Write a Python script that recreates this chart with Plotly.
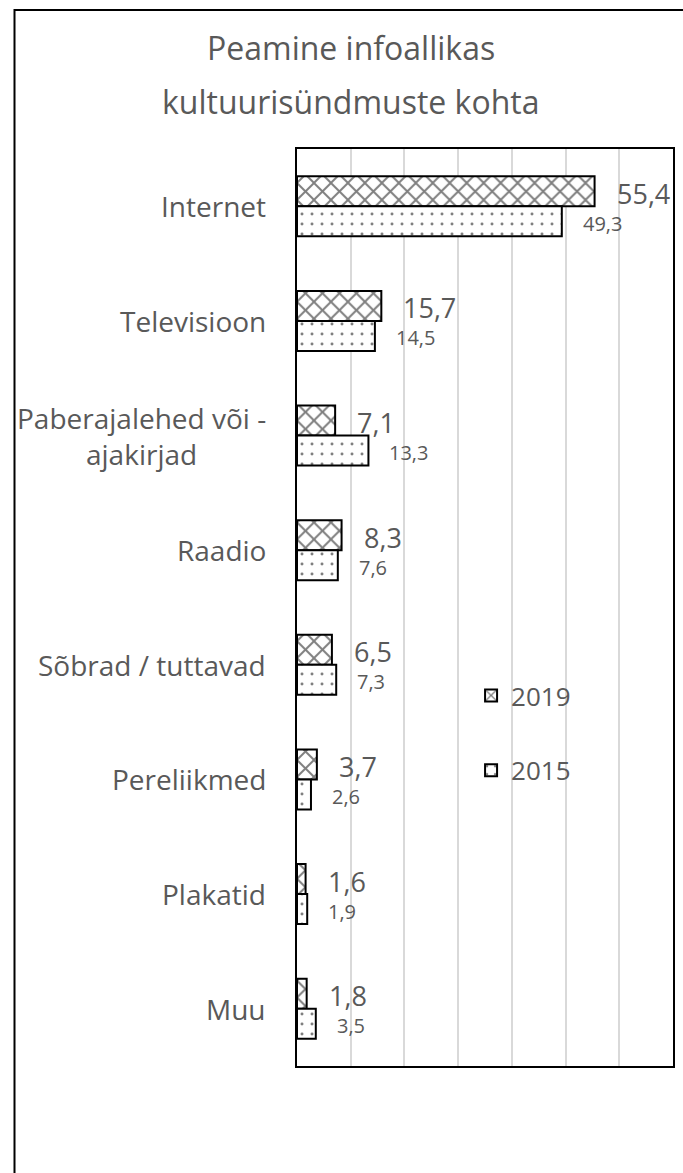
import plotly.graph_objects as go

categories = ["Internet", "Televisioon", "Paberajalehed või -<br>ajakirjad", "Raadio",
              "Sõbrad / tuttavad", "Pereliikmed", "Plakatid", "Muu"]
values_2019 = [55.4, 15.7, 7.1, 8.3, 6.5, 3.7, 1.6, 1.8]
values_2015 = [49.3, 14.5, 13.3, 7.6, 7.3, 2.6, 1.9, 3.5]
series_names = ["2019", "2015"]
title_lines = ["Peamine infoallikas", "kultuurisündmuste kohta"]

W, H = 683, 1173
ML, MR, MT, MB = 297, 8, 149, 107
PW, PH = W - ML - MR, H - MT - MB

def px_x(p):
    return (p - ML) / PW

def px_y(p):
    return (H - MB - p) / PH

GREY = "#595959"
FONT = "Open Sans"

def fmt(v):
    return f"{v:.1f}".replace(".", ",")

fig = go.Figure()
fig.add_trace(go.Bar(
    y=categories, x=values_2019, name=series_names[0], orientation="h",
    legendgroup="a",
    marker=dict(color="white", line=dict(color="black", width=2),
                pattern=dict(shape="x", fgcolor="black", bgcolor="white", size=12, solidity=0.3)),
))
fig.add_trace(go.Bar(
    y=categories, x=values_2015, name=series_names[1], orientation="h",
    legendgroup="b",
    marker=dict(color="white", line=dict(color="black", width=2),
                pattern=dict(shape=".", fgcolor="black", bgcolor="white", size=10, solidity=0.07)),
))

annotations = []
for c, v in zip(categories, values_2019):
    annotations.append(dict(x=v, y=c, xref="x", yref="y", text=fmt(v), showarrow=False,
                            xanchor="left", yanchor="middle", xshift=20, yshift=13,
                            font=dict(family=FONT, size=27, color=GREY)))
for c, v in zip(categories, values_2015):
    annotations.append(dict(x=v, y=c, xref="x", yref="y", text=fmt(v), showarrow=False,
                            xanchor="left", yanchor="middle", xshift=19, yshift=-17,
                            font=dict(family=FONT, size=20, color=GREY)))
for c in categories:
    annotations.append(dict(x=px_x(268), y=c, xref="paper", yref="y", text=c, showarrow=False,
                            xanchor="right", yanchor="middle", align="center",
                            font=dict(family=FONT, size=28, color=GREY)))
for t, yy in zip(title_lines, [47, 101]):
    annotations.append(dict(x=px_x(351), y=px_y(yy), xref="paper", yref="paper", text=t,
                            showarrow=False, xanchor="center", yanchor="middle",
                            font=dict(family=FONT, size=32, color=GREY)))

fig.update_layout(
    width=W, height=H,
    margin=dict(l=ML, r=MR, t=MT, b=MB),
    paper_bgcolor="white", plot_bgcolor="white",
    barmode="group", bargap=0.476, bargroupgap=0,
    showlegend=True,
    legend=dict(x=px_x(472), y=px_y(672), xanchor="left", yanchor="top",
                font=dict(family=FONT, size=26, color=GREY),
                traceorder="grouped", tracegroupgap=38, bgcolor="rgba(0,0,0,0)"),
    annotations=annotations,
    shapes=[dict(type="rect", xref="paper", yref="paper",
                 x0=px_x(13), x1=px_x(W + 20), y0=px_y(H + 20), y1=px_y(10),
                 line=dict(color="black", width=2), layer="below")],
    xaxis=dict(range=[0, 70], dtick=10, showticklabels=False, showgrid=True,
               gridcolor="#d9d9d9", gridwidth=1.5, zeroline=False,
               showline=True, mirror=True, linecolor="black", linewidth=2, fixedrange=True),
    yaxis=dict(autorange="reversed", showticklabels=False, showgrid=False,
               showline=True, mirror=True, linecolor="black", linewidth=2, fixedrange=True),
)

fig.write_html("out.html", config={"displayModeBar": False},
               post_script="document.body.style.margin='0';document.body.style.overflow='hidden';")
